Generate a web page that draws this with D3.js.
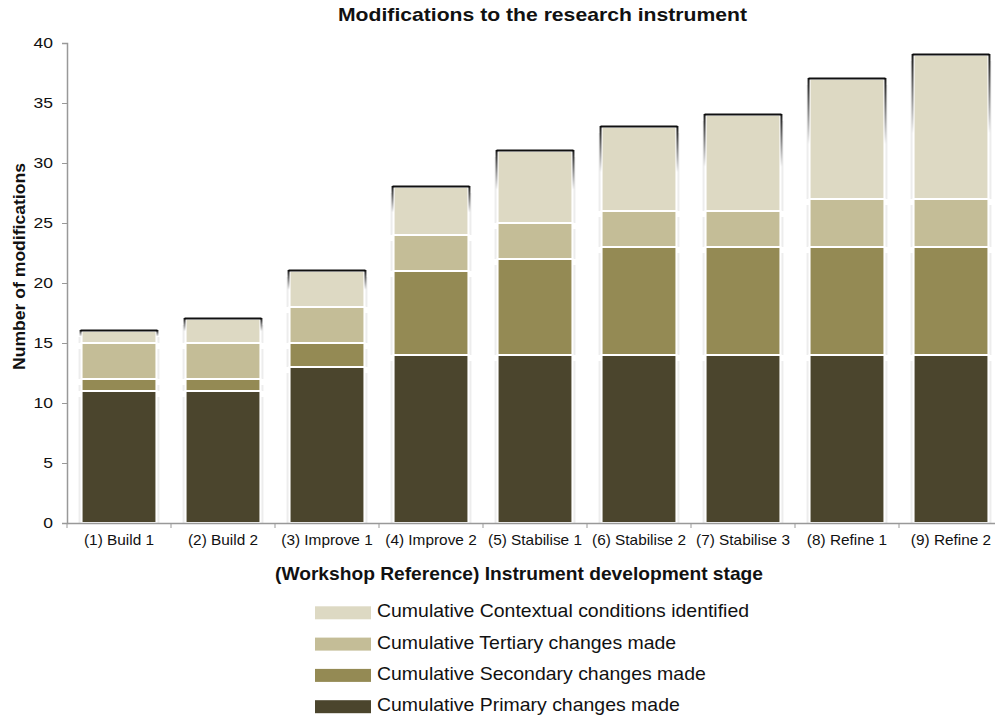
<!DOCTYPE html>
<html>
<head>
<meta charset="utf-8">
<script src="https://cdn.jsdelivr.net/npm/d3@7"></script>
<style>
  body { margin: 0; background: #fff; }
  svg { display: block; font-family: Arial, "Liberation Sans", sans-serif; }
</style>
</head>
<body>
<svg id="chart" width="995" height="717"></svg>
<script>
// Workshop stages along the x axis
const stages = ["(1) Build 1", "(2) Build 2", "(3) Improve 1", "(4) Improve 2", "(5) Stabilise 1",
                "(6) Stabilise 2", "(7) Stabilise 3", "(8) Refine 1", "(9) Refine 2"];

// Per-stage increments; stacking them gives the cumulative totals
const primary    = [11, 11, 13, 14, 14, 14, 14, 14, 14];
const secondary  = [1, 1, 2, 7, 8, 9, 9, 9, 9];
const tertiary   = [3, 3, 3, 3, 3, 3, 3, 4, 4];
const contextual = [1, 2, 3, 4, 6, 7, 8, 10, 12];

const seriesNames = ["Cumulative Primary changes made", "Cumulative Secondary changes made",
                     "Cumulative Tertiary changes made", "Cumulative Contextual conditions identified"];
const seriesColors = ["#4B452D", "#948A54", "#C4BD97", "#DDD9C3"];
const yTicks = [0, 5, 10, 15, 20, 25, 30, 35, 40];

const svg = d3.select("#chart");
const rows = stages.map((s, i) => ({
  stage: s, p: primary[i], s2: secondary[i], t: tertiary[i], c: contextual[i]
}));
const keys = ["p", "s2", "t", "c"];
const stacked = d3.stack().keys(keys)(rows);

const x = d3.scaleBand().domain(stages).range([67, 1003]).paddingInner(0.28).paddingOuter(0.14);
const y = d3.scaleLinear().domain([0, 40]).range([523, 43]);

// Widen text glyphs slightly (the chart's type is set a little wide)
function widen(sel, k) {
  sel.each(function () {
    const w = this.getComputedTextLength();
    d3.select(this).attr("textLength", w * k).attr("lengthAdjust", "spacingAndGlyphs");
  });
}

const defs = svg.append("defs");
const sideGrad = defs.append("linearGradient").attr("id", "sideShade")
  .attr("x1", 0).attr("y1", 0).attr("x2", 0).attr("y2", 1);
sideGrad.append("stop").attr("offset", "0%").attr("stop-color", "#000").attr("stop-opacity", 0.9);
sideGrad.append("stop").attr("offset", "100%").attr("stop-color", "#000").attr("stop-opacity", 0);

const bw = x.bandwidth();

// Soft grey shadows beside each segment
stacked.forEach((layer) => {
  svg.append("g").selectAll("rect").data(layer).join("rect")
    .attr("x", d => x(d.data.stage) - 3)
    .attr("y", d => y(d[1]) + 6)
    .attr("width", bw + 6)
    .attr("height", d => Math.max(0, y(d[0]) - y(d[1]) - 6))
    .attr("fill", "#000").attr("opacity", 0.07);
});

// Stacked segments
const layers = svg.append("g").selectAll("g").data(stacked).join("g")
  .attr("fill", (d, i) => seriesColors[i]);
layers.selectAll("rect").data(d => d).join("rect")
  .attr("x", d => x(d.data.stage))
  .attr("y", d => y(d[1]))
  .attr("width", bw)
  .attr("height", d => y(d[0]) - y(d[1]))
  .attr("stroke", "#fff").attr("stroke-width", 2);

// Dark rim on the top of every bar, fading down the sides
const topLayer = stacked[stacked.length - 1];
const rim = svg.append("g");
const fadeLen = d => 0.55 * (y(d[0]) - y(d[1]));
rim.selectAll("line.top").data(topLayer).join("line")
  .attr("x1", d => x(d.data.stage) - 1).attr("x2", d => x(d.data.stage) + bw + 1)
  .attr("y1", d => y(d[1]) - 0.5).attr("y2", d => y(d[1]) - 0.5)
  .attr("stroke", "#111").attr("stroke-width", 2);
rim.selectAll("rect.l").data(topLayer).join("rect")
  .attr("x", d => x(d.data.stage) - 2).attr("y", d => y(d[1]) - 1)
  .attr("width", 2).attr("height", fadeLen)
  .attr("fill", "url(#sideShade)");
rim.selectAll("rect.r").data(topLayer).join("rect")
  .attr("x", d => x(d.data.stage) + bw).attr("y", d => y(d[1]) - 1)
  .attr("width", 2).attr("height", fadeLen)
  .attr("fill", "url(#sideShade)");

// Axes
const yAxis = svg.append("g").attr("transform", "translate(67,0)")
  .call(d3.axisLeft(y).tickValues(yTicks).tickSize(5).tickPadding(9));
yAxis.select(".domain").attr("stroke", "#999").attr("stroke-width", 1.5);
yAxis.selectAll(".tick line").attr("stroke", "#999");
yAxis.selectAll("text").attr("font-size", 15.5).attr("fill", "#111")
  .attr("font-family", "Arial, 'Liberation Sans', sans-serif");
widen(yAxis.selectAll("text"), 1.13);

const xAxis = svg.append("g").attr("transform", "translate(0,523)")
  .call(d3.axisBottom(x).tickSize(0).tickPadding(11.5));
xAxis.select(".domain").attr("stroke", "#999").attr("stroke-width", 1.5);
xAxis.selectAll("text").attr("font-size", 14.5).attr("fill", "#111")
  .attr("font-family", "Arial, 'Liberation Sans', sans-serif");
widen(xAxis.selectAll("text"), 1.06);
// band boundary ticks
svg.append("g").selectAll("line").data(d3.range(stages.length + 1)).join("line")
  .attr("x1", i => 67 + i * x.step()).attr("x2", i => 67 + i * x.step())
  .attr("y1", 523).attr("y2", 528).attr("stroke", "#999");

// Titles
const title = svg.append("text").attr("x", 542.5).attr("y", 21).attr("text-anchor", "middle")
  .attr("font-size", 18.6).attr("font-weight", "bold").attr("fill", "#111")
  .text("Modifications to the research instrument");
title.attr("textLength", 409).attr("lengthAdjust", "spacingAndGlyphs");

svg.append("text").attr("transform", "translate(25,266.5) rotate(-90)").attr("text-anchor", "middle")
  .attr("font-size", 17.4).attr("font-weight", "bold").attr("fill", "#111")
  .attr("textLength", 207).attr("lengthAdjust", "spacingAndGlyphs")
  .text("Number of modifications");

svg.append("text").attr("x", 519).attr("y", 580).attr("text-anchor", "middle")
  .attr("font-size", 17.7).attr("font-weight", "bold").attr("fill", "#111")
  .attr("textLength", 488).attr("lengthAdjust", "spacingAndGlyphs")
  .text("(Workshop Reference) Instrument development stage");

// Legend (top entry is the topmost series)
const legendOrder = [3, 2, 1, 0];
const legend = svg.append("g").selectAll("g").data(legendOrder).join("g")
  .attr("transform", (d, i) => `translate(315,${617.3 + i * 31.3})`);
legend.append("rect").attr("x", 0).attr("y", -11).attr("width", 56).attr("height", 13)
  .attr("fill", d => seriesColors[d]);
const legendText = legend.append("text").attr("x", 62).attr("y", 0)
  .attr("font-size", 17.7).attr("fill", "#111").text(d => seriesNames[d]);
widen(legendText, 1.1);
</script>
</body>
</html>
